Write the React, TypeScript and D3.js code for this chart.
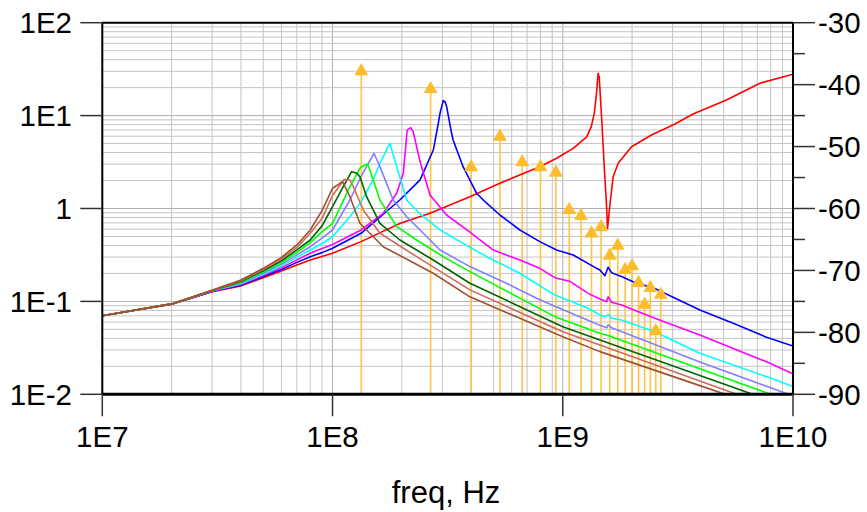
import React from "react";
import * as d3 from "d3";

type P = [number, number];

const xTicks = [1e7, 1e8, 1e9, 1e10];
const xTickLabels = ["1E7", "1E8", "1E9", "1E10"];
const yTicks = [1e-2, 1e-1, 1, 10, 100];
const yTickLabels = ["1E-2", "1E-1", "1", "1E1", "1E2"];
const rTicks = [-90, -80, -70, -60, -50, -40, -30];
const rMinor = [-85, -75, -65, -55, -45, -35];

const redZ: P[] = [[1e7,0.07],[2e7,0.093],[3e7,0.127],[4e7,0.147],[5e7,0.18],[6e7,0.212],[7e7,0.246],[8e7,0.279],[1e8,0.33],[1.33e8,0.44],[1.96e8,0.69],[2.65e8,0.89],[3.95e8,1.34],[5.33e8,1.87],[6.5e8,2.29],[7.95e8,2.82],[9.4e8,3.47],[1.11e9,4.44],[1.27e9,5.9],[1.33e9,7.6],[1.37e9,10.5],[1.403e9,18],[1.424e9,28.5],[1.44e9,26],[1.474e9,9.7],[1.523e9,2.2],[1.55e9,1.05],[1.565e9,0.61],[1.6e9,1.05],[1.655e9,2.2],[1.74e9,3.07],[1.99e9,4.62],[2.43e9,6.18],[3.07e9,8.13],[3.68e9,10.4],[5.14e9,14.7],[7.18e9,22.3],[1e10,27.9]];
const blueZ: P[] = [[1e7,0.07],[2e7,0.093],[3e7,0.128],[4e7,0.149],[5e7,0.185],[6e7,0.221],[7e7,0.263],[8e7,0.303],[9e7,0.335],[1e8,0.373],[1.33e8,0.541],[1.96e8,1.235],[2.4e8,2.03],[2.74e8,4.26],[2.88e8,8.26],[2.93e8,10.6],[3.025e8,14.5],[3.08e8,14.1],[3.13e8,12.5],[3.29e8,6.45],[3.34e8,5.46],[3.69e8,2.82],[4.22e8,1.46],[4.67e8,1.14],[5.33e8,0.851],[6.51e8,0.587],[7.95e8,0.44],[9.4e8,0.357],[1.11e9,0.316],[1.403e9,0.227],[1.45e9,0.218],[1.523e9,0.189],[1.574e9,0.233],[1.63e9,0.204],[1.8e9,0.185],[2.02e9,0.163],[2.51e9,0.138],[3.94e9,0.0807],[5.5e9,0.0581],[7.67e9,0.0411],[1e10,0.0331]];
const magentaZ: P[] = [[1e7,0.07],[2e7,0.094],[3e7,0.129],[4e7,0.152],[5e7,0.19],[6e7,0.231],[7e7,0.28],[8e7,0.33],[9e7,0.37],[1e8,0.41],[1.33e8,0.587],[1.66e8,0.888],[1.9e8,1.46],[2.03e8,2.39],[2.11e8,7.0],[2.19e8,7.41],[2.24e8,6.71],[2.4e8,3.2],[2.65e8,1.4],[3.13e8,0.851],[3.95e8,0.558],[4.99e8,0.357],[6.51e8,0.279],[7.95e8,0.227],[9.24e8,0.18],[1.07e9,0.165],[1.29e9,0.122],[1.45e9,0.106],[1.55e9,0.1],[1.574e9,0.112],[1.63e9,0.098],[1.8e9,0.0914],[2.51e9,0.0658],[3.94e9,0.0435],[7.67e9,0.0224],[1e10,0.0166]];
const cyanZ: P[] = [[1e7,0.07],[2e7,0.094],[3e7,0.13],[4e7,0.155],[5e7,0.196],[6e7,0.241],[7e7,0.298],[8e7,0.357],[9e7,0.42],[1e8,0.497],[1.19e8,0.816],[1.33e8,1.18],[1.5e8,2.03],[1.606e8,3.07],[1.775e8,5.03],[1.9e8,2.82],[2.1e8,1.235],[2.4e8,0.873],[2.93e8,0.587],[3.58e8,0.44],[4.67e8,0.303],[6.51e8,0.201],[9.24e8,0.117],[1.29e9,0.0843],[1.45e9,0.0714],[1.523e9,0.0685],[1.574e9,0.072],[1.63e9,0.066],[1.8e9,0.063],[2.51e9,0.0472],[3.94e9,0.0276],[7.67e9,0.0155],[1e10,0.0121]];
const purpleZ: P[] = [[1e7,0.07],[2e7,0.094],[3e7,0.13],[4e7,0.158],[5e7,0.202],[6e7,0.252],[7e7,0.317],[8e7,0.388],[9e7,0.48],[1e8,0.587],[1.19e8,1.235],[1.33e8,2.2],[1.406e8,2.82],[1.513e8,3.93],[1.606e8,2.82],[1.835e8,1.235],[2.1e8,0.816],[2.4e8,0.587],[2.93e8,0.357],[3.95e8,0.237],[5.51e8,0.163],[7.7e8,0.108],[9.24e8,0.0885],[1.45e9,0.0553],[1.55e9,0.052],[1.574e9,0.056],[1.63e9,0.052],[3.94e9,0.0223],[1e10,0.0096]];
const greenZ: P[] = [[1e7,0.07],[2e7,0.094],[3e7,0.131],[4e7,0.161],[5e7,0.208],[6e7,0.262],[7e7,0.337],[8e7,0.429],[9e7,0.56],[1e8,0.693],[1.19e8,1.72],[1.324e8,2.78],[1.42e8,3.01],[1.453e8,2.6],[1.606e8,1.235],[1.9e8,0.637],[2.32e8,0.458],[3.025e8,0.303],[3.95e8,0.209],[9.24e8,0.0685],[1.45e9,0.0454],[1.574e9,0.043],[3.94e9,0.0188],[1e10,0.0082]];
const darkGreenZ: P[] = [[1e7,0.07],[2e7,0.094],[3e7,0.131],[4e7,0.164],[5e7,0.214],[6e7,0.274],[7e7,0.358],[8e7,0.458],[9e7,0.65],[1e8,1.045],[1.113e8,1.72],[1.21e8,2.49],[1.276e8,2.39],[1.315e8,2.2],[1.406e8,1.34],[1.606e8,0.693],[1.962e8,0.458],[2.737e8,0.279],[3.95e8,0.157],[1e9,0.0534],[1.45e9,0.0384],[3.94e9,0.0159],[1e10,0.00703]];
const rosyZ: P[] = [[1e7,0.07],[2e7,0.094],[3e7,0.132],[4e7,0.167],[5e7,0.2205],[6e7,0.286],[7e7,0.381],[8e7,0.541],[9e7,0.78],[1e8,1.38],[1.124e8,2.06],[1.19e8,2.03],[1.23e8,1.72],[1.36e8,0.964],[1.606e8,0.541],[2.32e8,0.303],[3.95e8,0.133],[1e9,0.0472],[1.45e9,0.034],[3.94e9,0.0139],[1e10,0.00607]];
const brownZ: P[] = [[1e7,0.07],[2e7,0.094],[3e7,0.132],[4e7,0.17],[5e7,0.227],[6e7,0.298],[7e7,0.405],[8e7,0.587],[9e7,0.95],[1e8,1.65],[1.106e8,1.94],[1.19e8,1.34],[1.315e8,0.693],[1.66e8,0.388],[2.737e8,0.201],[3.95e8,0.112],[1e9,0.0417],[1.45e9,0.0288],[3.94e9,0.0124],[1e10,0.00565]];

const harmonicFreq = [1.3333e8, 2.6667e8, 4e8, 5.3333e8, 6.6667e8, 8e8, 9.3333e8, 1.0667e9, 1.2e9, 1.3333e9, 1.4667e9, 1.6e9, 1.7333e9, 1.8667e9, 2e9, 2.1333e9, 2.2667e9, 2.4e9, 2.5333e9, 2.6667e9];
const harmonicDb = [-37.5, -40.4, -53.0, -48.1, -52.2, -53.0, -53.9, -59.9, -60.9, -63.7, -62.7, -67.3, -65.7, -69.6, -69.0, -71.7, -75.2, -72.5, -79.5, -73.6];

const series: { data: P[]; color: string }[] = [
  { data: redZ, color: "#FF0000" },
  { data: blueZ, color: "#0000FF" },
  { data: magentaZ, color: "#FF00FF" },
  { data: cyanZ, color: "#00FFFF" },
  { data: purpleZ, color: "#8080FF" },
  { data: greenZ, color: "#00FF00" },
  { data: darkGreenZ, color: "#006400" },
  { data: rosyZ, color: "#D06A5A" },
  { data: brownZ, color: "#A0522D" },
];

const W = 867, H = 512;
const L = 102.3, R = 793, T = 22.7, B = 394.3;
const font = "'Liberation Sans', Arial, sans-serif";

export default function App() {
  const x = d3.scaleLog().domain([1e7, 1e10]).range([L, R]);
  const y = d3.scaleLog().domain([1e-2, 1e2]).range([B, T]);
  const yr = d3.scaleLinear().domain([-90, -30]).range([B, T]);
  const line = d3.line<P>().x((d) => x(d[0])).y((d) => y(d[1]));

  const xGrid: number[] = [];
  for (let e = 7; e < 10; e++) for (let k = 2; k <= 9; k++) xGrid.push(k * Math.pow(10, e));
  const yGrid: number[] = [];
  for (let e = -2; e < 2; e++) for (let k = 2; k <= 9; k++) yGrid.push(k * Math.pow(10, e));

  return (
    <svg width={W} height={H} style={{ position: "absolute", left: 0, top: 0, background: "#fff" }} fontFamily={font}>
      <defs>
        <clipPath id="plot">
          <rect x={L} y={T} width={R - L} height={B - T} />
        </clipPath>
      </defs>
      <g stroke="#c4c4c4" strokeWidth={1}>
        {xGrid.map((v, i) => (
          <line key={"gx" + i} x1={x(v)} x2={x(v)} y1={T} y2={B} />
        ))}
        {[1e8, 1e9].map((v, i) => (
          <line key={"gxd" + i} x1={x(v)} x2={x(v)} y1={T} y2={B} stroke="#b0b0b0" />
        ))}
        {yGrid.map((v, i) => (
          <line key={"gy" + i} x1={L} x2={R} y1={y(v)} y2={y(v)} />
        ))}
        {[1e-1, 1, 10].map((v, i) => (
          <line key={"gyd" + i} x1={L} x2={R} y1={y(v)} y2={y(v)} stroke="#b0b0b0" />
        ))}
      </g>
      <g clipPath="url(#plot)">
        {harmonicFreq.map((f, i) => (
          <line key={"st" + i} x1={x(f)} x2={x(f)} y1={B} y2={yr(harmonicDb[i])} stroke="#FFC445" strokeWidth={1.6} />
        ))}
        {series.map((s, i) => (
          <path key={"s" + i} d={line(s.data) || ""} fill="none" stroke={s.color} strokeWidth={1.6} strokeLinejoin="round" />
        ))}
        {harmonicFreq.map((f, i) => (
          <path key={"tr" + i} transform={`translate(${x(f)},${yr(harmonicDb[i])})`} d="M0,-6.2L7,6L-7,6Z" fill="#FDBD2B" />
        ))}
      </g>
      <g stroke="#000" fill="none">
        <line x1={L} x2={R} y1={T} y2={T} strokeWidth={2} />
        <line x1={L} x2={L} y1={T} y2={B} strokeWidth={2} />
        <line x1={R} x2={R} y1={T} y2={B} strokeWidth={2} />
        <line x1={L} x2={R} y1={B} y2={B} strokeWidth={3} />
      </g>
      <g stroke="#333" strokeWidth={1.5}>
        {yTicks.map((v, i) => (
          <line key={"yt" + i} x1={L - 22} x2={L} y1={y(v)} y2={y(v)} />
        ))}
        {xTicks.map((v, i) => (
          <line key={"xt" + i} x1={x(v)} x2={x(v)} y1={B} y2={B + 22} />
        ))}
        {rTicks.map((v, i) => (
          <line key={"rt" + i} x1={R} x2={R + 22} y1={yr(v)} y2={yr(v)} />
        ))}
        {rMinor.map((v, i) => (
          <line key={"rm" + i} x1={R} x2={R + 12} y1={yr(v)} y2={yr(v)} />
        ))}
      </g>
      <g fontSize={29.5} fill="#000">
        {yTicks.map((v, i) => (
          <text key={"yl" + i} x={72} y={y(v)} dy="0.36em" textAnchor="end">{yTickLabels[i]}</text>
        ))}
        {xTicks.map((v, i) => (
          <text key={"xl" + i} x={x(v)} y={447} textAnchor="middle">{xTickLabels[i]}</text>
        ))}
        {rTicks.map((v, i) => (
          <text key={"rl" + i} x={818} y={yr(v)} dy="0.36em" textAnchor="start">{String(v)}</text>
        ))}
        <text x={446} y={503} textAnchor="middle" fontSize={31}>freq, Hz</text>
      </g>
    </svg>
  );
}
